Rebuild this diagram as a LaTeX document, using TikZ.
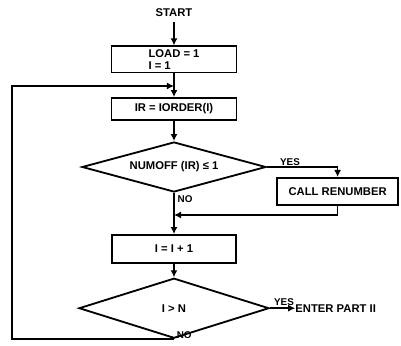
\documentclass[tikz,border=0pt]{standalone}
\usepackage{fontspec}
\setmainfont{Liberation Sans}
\usepackage{tikz}
\usetikzlibrary{arrows.meta,positioning,shapes.geometric,calc}

\tikzset{
  flowline/.style={line width=1.1pt, black},
  procbox/.style={draw, line width=1.3pt, rectangle, align=left, inner sep=2pt, font=\fontsize{8}{9}\selectfont\bfseries},
  decision/.style={draw, line width=1.3pt, diamond, inner sep=0pt, font=\fontsize{8}{9}\selectfont\bfseries},
  lbl/.style={font=\fontsize{7}{8}\selectfont\bfseries, inner sep=1pt}
}

\begin{document}
\begin{tikzpicture}[>={Latex[length=5pt,width=5pt]}]
  \useasboundingbox (0,0) rectangle (10.025,8.625);

  %% Start and first block
  \node[font=\fontsize{8}{9}\selectfont\bfseries] (start) at (4.35,8.3) {START};
  \node[procbox, minimum width=3.125cm, minimum height=0.625cm] (load) at (4.35,7.14) {LOAD = 1\\I = 1};
  \draw[flowline, ->] (start) -- (load);

  %% Loop entry
  \coordinate (junction) at (4.35,6.475);
  \node[procbox, minimum width=3.125cm, minimum height=0.55cm] (iorder) at (4.35,5.9) {IR = IORDER(I)};
  \draw[flowline, ->] (load.south) -- (iorder.north);

  %% First test
  \node[decision, shape aspect=3.7, minimum width=4.6cm, minimum height=1.25cm] (numoff) at (4.35,4.45) {NUMOFF (IR) ≤ 1};
  \draw[flowline, ->] (iorder) -- (numoff);

  \node[procbox, minimum width=3.025cm, minimum height=0.675cm] (renumber) at (8.44,3.84) {CALL RENUMBER};
  \draw[flowline, ->] (numoff.east) -| (renumber.north);
  \node[lbl, anchor=south] (yes1) at (7.25,4.45) {YES};

  \coordinate (merge) at (4.35,3.25);
  \draw[flowline, ->] (renumber.south) |- (merge);
  \node[lbl, anchor=north west] (no1) at (4.4,3.78) {NO};

  %% Increment
  \node[procbox, minimum width=3.1cm, minimum height=0.7cm] (incr) at (4.35,2.4) {I = I + 1};
  \draw[flowline, ->] (numoff.south) -- (incr.north);

  %% Second test
  \node[decision, shape aspect=3.2, minimum width=4.75cm, minimum height=1.5cm] (test) at (4.35,0.92) {I > N};
  \draw[flowline, ->] (incr) -- (test);

  \node[font=\fontsize{8}{9}\selectfont\bfseries, anchor=west, inner sep=0pt] (enter) at (7.38,0.92) {ENTER PART II};
  \draw[flowline, ->] (test.east) -- (enter.west);
  \node[lbl, anchor=south] (yes2) at (7.1,0.95) {YES};

  %% Back to the top
  \coordinate (loopc) at (0.3,6.475);
  \draw[flowline, ->] (test.south) -| (loopc) -- (junction);
  \node[lbl, anchor=south west] (no2) at (4.38,0.12) {NO};
\end{tikzpicture}
\end{document}
